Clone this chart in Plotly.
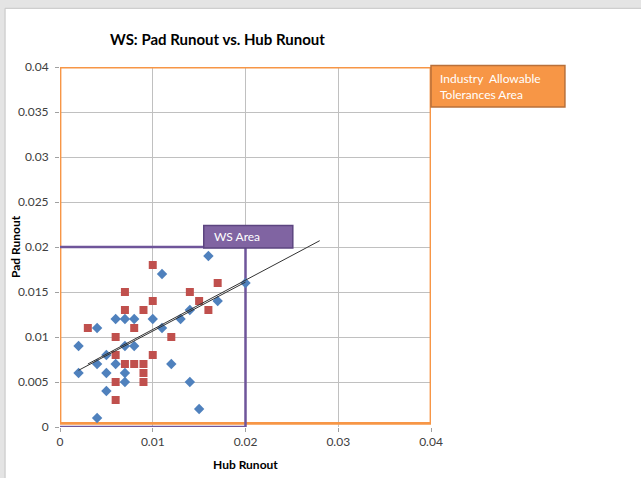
import plotly.graph_objects as go

# ---- data ----
blue_x = [0.002, 0.002, 0.004, 0.004, 0.004, 0.005, 0.005, 0.005, 0.006, 0.006,
          0.007, 0.007, 0.007, 0.007, 0.008, 0.008, 0.010, 0.011, 0.011, 0.012,
          0.013, 0.014, 0.014, 0.015, 0.016, 0.017, 0.020]
blue_y = [0.009, 0.006, 0.011, 0.007, 0.001, 0.008, 0.006, 0.004, 0.012, 0.007,
          0.012, 0.009, 0.006, 0.005, 0.012, 0.009, 0.012, 0.017, 0.011, 0.007,
          0.012, 0.013, 0.005, 0.002, 0.019, 0.014, 0.016]
red_x = [0.003, 0.006, 0.006, 0.006, 0.006, 0.007, 0.007, 0.007, 0.008, 0.008,
         0.009, 0.009, 0.009, 0.009, 0.010, 0.010, 0.010, 0.012, 0.014, 0.015,
         0.016, 0.017]
red_y = [0.011, 0.010, 0.008, 0.005, 0.003, 0.015, 0.013, 0.007, 0.011, 0.007,
         0.013, 0.007, 0.006, 0.005, 0.018, 0.014, 0.008, 0.010, 0.015, 0.014,
         0.013, 0.016]

blue_trend_x = [0.002, 0.020]
blue_trend_y = [0.0063, 0.0161]
red_trend_x = [0.003, 0.028]
red_trend_y = [0.0070, 0.0207]

industry_box_x = [0, 0, 0.04, 0.04, 0]
industry_box_y = [0.0004, 0.04, 0.04, 0.0004, 0.0004]
ws_box_x = [0, 0.02, 0.02, 0]
ws_box_y = [0.02, 0.02, 0, 0]

x_ticks = [0, 0.01, 0.02, 0.03, 0.04]
x_tick_labels = ["0", "0.01", "0.02", "0.03", "0.04"]
y_ticks = [0, 0.005, 0.01, 0.015, 0.02, 0.025, 0.03, 0.035, 0.04]
y_tick_labels = ["0", "0.005", "0.01", "0.015", "0.02", "0.025", "0.03", "0.035", "0.04"]

FONT = "Lato"
ORANGE = "#F79646"
PURPLE = "#6F559A"

fig = go.Figure()

fig.add_trace(go.Scatter(x=industry_box_x, y=industry_box_y, mode="lines",
                         line=dict(color=ORANGE, width=2.8), cliponaxis=False,
                         hoverinfo="skip", showlegend=False))
fig.add_trace(go.Scatter(x=ws_box_x, y=ws_box_y, mode="lines",
                         line=dict(color=PURPLE, width=2.5), cliponaxis=False,
                         hoverinfo="skip", showlegend=False))
fig.add_trace(go.Scatter(x=blue_x, y=blue_y, mode="markers", name="Blue",
                         marker=dict(symbol="diamond", size=8, color="#4F81BD"),
                         cliponaxis=False, showlegend=False))
fig.add_trace(go.Scatter(x=red_x, y=red_y, mode="markers", name="Red",
                         marker=dict(symbol="square", size=8, color="#C0504D"),
                         cliponaxis=False, showlegend=False))
fig.add_trace(go.Scatter(x=blue_trend_x, y=blue_trend_y, mode="lines",
                         line=dict(color="#333333", width=1), showlegend=False))
fig.add_trace(go.Scatter(x=red_trend_x, y=red_trend_y, mode="lines",
                         line=dict(color="#333333", width=1), showlegend=False))

shapes = [
    # white chart area over grey frame
    dict(type="rect", xref="paper", yref="paper", x0=-0.148, x1=1.6, y0=-0.2, y1=1.163,
         fillcolor="white", line=dict(color="#C4C4C4", width=1), layer="below"),
    # WS Area label box
    dict(type="rect", xref="x", yref="y", x0=0.0155, x1=0.0251, y0=0.0199, y1=0.0224,
         fillcolor="#8064A2", line=dict(color="#5C4580", width=1.5), layer="above"),
    # Industry label box
    dict(type="rect", xref="paper", yref="paper", x0=1.0, x1=1.361, y0=0.889, y1=1.004,
         fillcolor=ORANGE, line=dict(color="#B9703A", width=1.5), layer="above"),
]

annotations = [
    dict(text="<b>WS: Pad Runout vs. Hub Runout</b>", xref="paper", yref="paper",
         x=(108 - 60) / 371, y=1.0 + (427 - 39 - 360) / 360, xanchor="left", yanchor="middle",
         showarrow=False, font=dict(family=FONT, size=15, color="#000000")),
    dict(text="<b>Pad Runout</b>", xref="paper", yref="paper", x=(15 - 60) / 371,
         y=(427 - 247) / 360, xanchor="center", yanchor="middle", textangle=-90,
         showarrow=False, font=dict(family=FONT, size=12, color="#000000")),
    dict(text="<b>Hub Runout</b>", xref="paper", yref="paper", x=(245 - 60) / 371,
         y=(427 - 464) / 360, xanchor="center", yanchor="middle",
         showarrow=False, font=dict(family=FONT, size=12, color="#000000")),
    dict(text="WS Area", xref="x", yref="y", x=0.0164, y=0.0212, xanchor="left",
         yanchor="middle", showarrow=False, font=dict(family=FONT, size=12, color="white")),
    dict(text="Industry  Allowable<br>Tolerances Area", xref="paper", yref="paper",
         x=(438 - 60) / 371, y=(427 - 86) / 360, xanchor="left", yanchor="middle",
         align="left", showarrow=False, font=dict(family=FONT, size=12, color="white")),
]

axis_common = dict(showgrid=True, gridcolor="#C0C0C0", gridwidth=1, zeroline=False,
                   showline=False, ticks="outside", ticklen=4, tickcolor="#A0A0A0",
                   tickfont=dict(family=FONT, size=12, color="#404040"), range=[0, 0.04],
                   fixedrange=True)

fig.update_layout(
    width=641, height=478,
    margin=dict(l=60, r=210, t=67, b=51),
    paper_bgcolor="#E4E4E4", plot_bgcolor="white",
    xaxis=dict(**axis_common, tickvals=x_ticks, ticktext=x_tick_labels),
    yaxis=dict(**axis_common, tickvals=y_ticks, ticktext=y_tick_labels, ticklabelstandoff=4),
    shapes=shapes, annotations=annotations, showlegend=False,
)

fig.write_html("out.html", config={"displayModeBar": False},
               post_script="document.body.style.margin='0';")
